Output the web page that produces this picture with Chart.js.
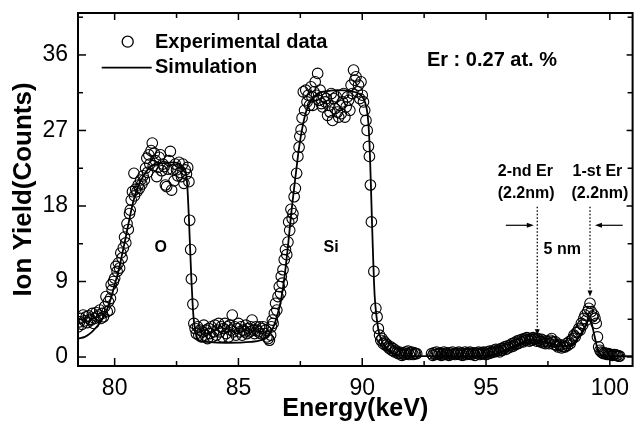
<!DOCTYPE html>
<html><head><meta charset="utf-8">
<script src="https://cdn.jsdelivr.net/npm/chart.js@4.4.1/dist/chart.umd.min.js"></script>
<style>html,body{margin:0;padding:0;background:#fff;overflow:hidden}canvas{display:block}</style>
</head><body>
<canvas id="c" width="639" height="422"></canvas>
<script>
// ---------- data ----------
const seriesNames = ['Experimental data', 'Simulation'];

// O peak region
const oE = [78.52,78.58,78.62,78.68,78.73,78.78,78.85,78.9,78.95,79.0,79.05,79.1,79.15,79.2,79.25,79.3,79.35,79.4,79.45,79.5,79.55,79.6,79.65,79.7,79.75,79.8,79.83,79.86,79.9,79.95,80.0,80.05,80.1,80.15,80.2,80.25,80.3,80.35,80.4,80.45,80.5,80.55,80.6,80.63,80.67,80.72,80.78,80.8,80.85,80.9,80.95,81.0,81.05,81.1,81.15,81.2,81.25,81.3,81.33,81.38,81.42,81.47,81.52,81.56,81.6,81.65,81.7,81.75,81.8,81.85,81.9,81.95,82.0,82.05,82.1,82.15,82.2,82.25,82.3,82.35,82.4,82.45,82.5,82.55,82.6,82.65,82.7,82.75,82.8,82.85,82.9,82.95,83.0,83.03,83.07,83.1,83.16,83.2,83.25];
const oC = [3.6,4.2,4.6,3.9,5.0,4.3,4.8,4.1,4.9,4.5,4.4,5.2,4.0,4.6,5.3,4.8,5.0,5.6,4.6,5.2,4.8,6.0,7.2,5.4,6.6,5.6,7.0,8.6,8.0,9.0,9.4,10.8,10.2,11.2,10.6,12.4,11.8,13.0,14.3,13.6,15.9,15.2,17.1,17.5,18.7,19.7,21.9,19.2,20.0,19.7,20.5,20.1,21.1,20.6,21.6,21.1,22.5,23.7,22.0,24.1,23.0,24.6,25.5,22.8,24.3,23.4,21.5,22.6,23.8,24.1,22.2,23.0,22.7,20.5,20.3,22.4,23.4,24.5,19.9,22.3,21.0,23.0,22.3,21.6,23.2,22.0,21.5,23.0,20.7,22.3,21.8,22.6,20.9,16.3,12.8,9.3,6.3,4.0,3.4];

// valley between O and Si
const valE = [83.3,83.35,83.4,83.45,83.5,83.55,83.6,83.65,83.7,83.75,83.8,83.85,83.9,83.95,84.0,84.05,84.1,84.15,84.2,84.25,84.3,84.35,84.4,84.45,84.5,84.55,84.6,84.65,84.7,84.75,84.8,84.85,84.9,84.95,85.0,85.05,85.1,85.15,85.2,85.25,85.3,85.35,85.4,85.45,85.5,85.55,85.6,85.65,85.7,85.75,85.8,85.85,85.9,85.95,86.0,86.05,86.1,86.15,86.2,86.25,86.3];
const valC = [2.8,3.6,2.6,3.2,2.4,3.0,3.8,2.6,3.2,2.2,3.4,2.8,3.6,2.4,3.0,3.8,2.6,3.2,4.0,3.0,3.6,2.4,3.4,4.0,2.8,3.6,2.4,3.8,3.2,5.0,3.0,3.6,2.6,3.4,4.0,3.0,3.6,2.6,3.2,3.0,3.8,2.8,3.4,3.0,3.6,4.4,3.2,2.8,3.6,3.2,3.0,3.6,2.8,3.4,3.6,2.8,3.2,2.4,2.2,2.0,2.6];

// Si plateau region
const siE = [86.33,86.37,86.4,86.45,86.5,86.55,86.6,86.65,86.7,86.73,86.77,86.8,86.85,86.9,86.95,87.0,87.03,87.07,87.12,87.17,87.2,87.25,87.3,87.35,87.4,87.45,87.48,87.53,87.57,87.62,87.67,87.72,87.77,87.82,87.87,87.93,87.97,88.0,88.05,88.1,88.15,88.2,88.25,88.3,88.35,88.4,88.45,88.5,88.55,88.6,88.65,88.7,88.75,88.8,88.85,88.9,88.95,89.0,89.05,89.1,89.15,89.2,89.25,89.3,89.35,89.4,89.45,89.5,89.55,89.6,89.65,89.7,89.75,89.8,89.85,89.9,89.95,90.0,90.05,90.1,90.15,90.2,90.25,90.29,90.33,90.37,90.47,90.55,90.6,90.65];
const siC = [3.6,4.4,4.0,5.2,6.4,5.6,7.2,8.4,7.6,9.6,8.8,10.4,11.6,12.8,12.2,13.7,16.1,15.1,17.6,16.5,17.1,19.1,20.1,21.9,23.9,25.0,26.3,27.1,28.5,31.6,29.4,31.8,30.4,31.2,30.0,32.2,31.0,30.0,31.6,32.8,31.2,33.8,30.6,31.8,30.2,29.8,31.0,30.4,30.8,28.8,30.0,29.2,31.4,28.2,30.8,29.6,31.0,29.2,28.6,30.0,29.0,30.4,31.4,28.6,29.8,31.0,30.6,29.4,32.4,31.4,34.2,33.0,33.4,31.6,32.4,30.8,32.8,31.2,30.4,29.4,28.2,27.0,25.1,23.9,20.5,16.1,10.2,5.8,4.8,3.4];

// Si tail
const tailE = [90.7,90.75,90.8,90.85,90.9,90.95,91.0,91.05,91.1,91.15,91.2,91.25,91.3,91.35,91.4,91.45,91.5,91.55,91.6,91.65,91.7,91.75,91.8,91.85,91.9,91.95,92.0,92.05,92.1,92.15,92.2];
const tailC = [2.6,2.0,2.2,1.6,1.8,1.4,1.5,1.2,1.0,1.2,0.8,1.0,0.6,0.8,0.6,0.4,0.6,0.4,0.2,0.5,0.3,0.6,0.4,0.7,0.3,0.5,0.6,0.3,0.5,0.4,0.4];

// flat baseline
const baseE = [92.8,92.85,92.9,92.95,93.0,93.05,93.1,93.15,93.2,93.25,93.3,93.35,93.4,93.45,93.5,93.55,93.6,93.65,93.7,93.75,93.8,93.85,93.9,93.95,94.0,94.05,94.1,94.15,94.2,94.25,94.3,94.35,94.4,94.45,94.5,94.55,94.6,94.65,94.7,94.75,94.8,94.85,94.9,94.95,95.0,95.05,95.1,95.15,95.2,95.25,95.3,95.35,95.4,95.45];
const baseC = [0.4,0.2,0.5,0.3,0.6,0.4,0.3,0.5,0.2,0.4,0.6,0.3,0.5,0.4,0.2,0.5,0.3,0.6,0.4,0.3,0.5,0.4,0.6,0.3,0.5,0.2,0.4,0.6,0.3,0.5,0.4,0.6,0.3,0.5,0.4,0.2,0.5,0.4,0.6,0.3,0.5,0.4,0.6,0.5,0.3,0.6,0.4,0.7,0.5,0.6,0.8,0.6,0.9,0.7];

// Er region
const erE = [95.5,95.55,95.6,95.65,95.7,95.75,95.8,95.85,95.9,95.95,96.0,96.05,96.1,96.15,96.2,96.25,96.3,96.35,96.4,96.45,96.5,96.55,96.6,96.65,96.7,96.75,96.8,96.85,96.9,96.95,97.0,97.05,97.1,97.15,97.2,97.25,97.3,97.35,97.4,97.45,97.5,97.55,97.6,97.65,97.7,97.75,97.8,97.85,97.9,97.95,98.0,98.05,98.1,98.15,98.2,98.25,98.3,98.35,98.4,98.45,98.5,98.55,98.6,98.65,98.7,98.75,98.8,98.85,98.9,98.95,99.0,99.05,99.1,99.15,99.2,99.25,99.3,99.35,99.4,99.45,99.5,99.55,99.6,99.65,99.7,99.75,99.8,99.85,99.9,99.95,100.0,100.05,100.1,100.15,100.2,100.25,100.3,100.35,100.4];
const erC = [0.8,0.6,1.0,0.8,1.0,1.2,0.9,1.3,1.1,1.4,1.2,1.6,1.3,1.7,1.5,1.9,1.6,2.0,1.8,2.1,1.8,2.2,2.0,2.3,2.1,1.9,2.2,2.0,2.3,2.1,2.2,1.9,2.2,2.0,1.8,2.1,1.7,1.9,1.6,1.9,1.8,1.6,2.0,2.2,1.8,1.5,1.8,1.4,1.2,1.5,1.4,1.1,1.3,1.2,1.2,1.6,1.4,1.8,1.6,2.0,2.2,2.6,2.4,2.9,3.0,3.4,3.2,4.0,3.8,4.6,5.0,4.4,5.4,5.8,6.4,5.4,4.8,5.0,4.6,4.0,2.4,1.2,0.8,0.6,0.5,0.4,0.5,0.4,0.3,0.4,0.3,0.3,0.2,0.3,0.3,0.2,0.2,0.1,0.1];

// simulation curve
const simE = [78.52,78.8,79.05,79.3,79.5,79.7,79.85,80.0,80.15,80.3,80.45,80.6,80.75,80.9,81.05,81.25,81.45,81.7,82.0,82.3,82.55,82.75,82.87,82.93,83.0,83.05,83.1,83.15,83.2,83.28,83.4,83.7,84.5,85.5,85.9,86.2,86.4,86.55,86.7,86.85,87.0,87.15,87.3,87.45,87.6,87.75,87.95,88.2,88.6,89.0,89.5,89.85,90.05,90.18,90.25,90.3,90.35,90.4,90.45,90.5,90.57,90.65,90.75,90.9,91.1,91.4,91.8,92.5,94.0,95.0,95.5,95.9,96.2,96.5,96.75,97.0,97.3,97.6,97.9,98.2,98.45,98.65,98.85,99.0,99.1,99.17,99.25,99.33,99.42,99.5,99.6,99.7,100.0,100.9];
const simC = [2.2,2.4,2.9,3.7,4.5,5.7,7.0,8.6,10.2,12.2,14.3,16.5,18.5,20.0,21.0,22.0,22.7,23.0,23.1,23.2,23.1,22.7,22.1,20.6,16.5,12.8,9.2,6.3,4.3,2.8,2.0,1.8,1.7,1.8,2.0,2.5,3.5,4.8,6.5,9.3,13.2,17.6,21.4,25.0,27.6,29.4,30.6,31.4,31.7,31.8,31.7,31.4,30.8,29.6,27.8,25.0,20.5,15.5,11.0,7.4,5.0,3.3,2.2,1.3,0.7,0.3,0.15,0.1,0.1,0.2,0.5,1.0,1.4,1.8,2.0,1.95,1.8,1.6,1.4,1.3,1.5,2.0,2.8,3.6,4.3,4.6,4.2,3.2,2.0,1.0,0.4,0.15,0.1,0.1];

// axes ticks
const xTicks = [80, 85, 90, 95, 100];
const xMinor = [82.5, 87.5, 92.5, 97.5];
const yTicks = [0, 9, 18, 27, 36];
const yMinor = [4.5, 13.5, 22.5, 31.5, 40.5];

// ---------- build chart ----------
const FONT = '"Liberation Sans", Arial, Helvetica, sans-serif';
const expE = [].concat(oE, valE, siE, tailE, baseE, erE);
const expC = [].concat(oC, valC, siC, tailC, baseC, erC);
const expPts = expE.map((e, i) => ({x: e, y: expC[i]}));
const simPts = simE.map((e, i) => ({x: e, y: simC[i]}));

function line(ctx, x1, y1, x2, y2) { ctx.beginPath(); ctx.moveTo(x1, y1); ctx.lineTo(x2, y2); ctx.stroke(); }
function head(ctx, x, y, dir) {
  ctx.beginPath();
  if (dir === 'down') { ctx.moveTo(x, y); ctx.lineTo(x - 2.5, y - 6); ctx.lineTo(x + 2.5, y - 6); }
  if (dir === 'right') { ctx.moveTo(x, y); ctx.lineTo(x - 7, y - 2.5); ctx.lineTo(x - 7, y + 2.5); }
  if (dir === 'left') { ctx.moveTo(x, y); ctx.lineTo(x + 7, y - 2.5); ctx.lineTo(x + 7, y + 2.5); }
  ctx.closePath(); ctx.fill();
}

const overlay = {
  id: 'overlay',
  afterDatasetsDraw(chart) {
    const {ctx, chartArea: a, scales: {x, y}} = chart;
    const X = v => x.getPixelForValue(v), Y = v => y.getPixelForValue(v);
    ctx.save();
    ctx.strokeStyle = '#000'; ctx.fillStyle = '#000';
    ctx.lineWidth = 2;
    ctx.strokeRect(a.left, a.top, a.right - a.left, a.bottom - a.top);
    ctx.lineWidth = 1.5;
    xTicks.forEach(v => { const p = X(v); line(ctx, p, a.bottom, p, a.bottom - 8); line(ctx, p, a.top, p, a.top + 7); });
    xMinor.forEach(v => { const p = X(v); line(ctx, p, a.bottom, p, a.bottom - 5); line(ctx, p, a.top, p, a.top + 5); });
    yTicks.forEach(v => { const p = Y(v); line(ctx, a.left, p, a.left + 8, p); line(ctx, a.right, p, a.right - 6, p); });
    yMinor.forEach(v => { const p = Y(v); line(ctx, a.left, p, a.left + 5, p); line(ctx, a.right, p, a.right - 5, p); });

    // legend
    ctx.lineWidth = 1.3;
    ctx.beginPath(); ctx.arc(127.7, 41.7, 5.5, 0, Math.PI * 2); ctx.stroke();
    ctx.lineWidth = 1.8;
    line(ctx, 101.7, 67.7, 151.7, 67.7);
    ctx.font = 'bold 20px ' + FONT; ctx.textAlign = 'left'; ctx.textBaseline = 'middle';
    ctx.fillText(seriesNames[0], 155, 42);
    ctx.fillText(seriesNames[1], 155, 67);

    // text labels
    ctx.textAlign = 'center';
    ctx.fillText('Er : 0.27 at. %', X(95.24), Y(35.4));
    ctx.font = 'bold 16px ' + FONT;
    ctx.fillText('O', X(81.86), Y(13.0));
    ctx.fillText('Si', X(88.74), Y(13.0));
    ctx.fillText('2-nd Er', X(96.59), Y(22.1));
    ctx.fillText('(2.2nm)', X(96.62), Y(19.5));
    ctx.fillText('1-st Er', X(99.5), Y(22.1));
    ctx.fillText('(2.2nm)', X(99.6), Y(19.5));
    ctx.fillText('5 nm', X(98.08), Y(12.75));

    // dotted markers
    ctx.lineWidth = 1.3; ctx.setLineDash([1.5, 2]);
    line(ctx, X(97.07), Y(17.9), X(97.07), Y(2.6) - 5);
    line(ctx, X(99.2), Y(17.9), X(99.2), Y(7.2) - 5);
    ctx.setLineDash([]);
    head(ctx, X(97.07), Y(2.6), 'down');
    head(ctx, X(99.2), Y(7.2), 'down');
    ctx.lineWidth = 1.2;
    line(ctx, X(95.8), Y(15.7), X(96.93) - 5, Y(15.7));
    head(ctx, X(96.93), Y(15.7), 'right');
    line(ctx, X(100.52), Y(15.7), X(99.4) + 5, Y(15.7));
    head(ctx, X(99.4), Y(15.7), 'left');
    ctx.restore();
  }
};

new Chart(document.getElementById('c'), {
  type: 'scatter',
  data: {
    datasets: [
      {
        label: seriesNames[0], data: expPts, showLine: false,
        pointStyle: 'circle', pointRadius: 5.3, pointHoverRadius: 5.3,
        borderColor: '#000', backgroundColor: 'rgba(0,0,0,0)', pointBorderWidth: 1.1, borderWidth: 1.1
      },
      {
        label: seriesNames[1], data: simPts, showLine: true, type: 'line',
        pointRadius: 0, borderColor: '#000', borderWidth: 1.8, backgroundColor: '#000',
        fill: false, cubicInterpolationMode: 'monotone'
      }
    ]
  },
  options: {
    responsive: false, animation: false, devicePixelRatio: 1,
    layout: {padding: {top: 13, right: 1, left: 0, bottom: 0}},
    plugins: {legend: {display: false}, tooltip: {enabled: false}},
    scales: {
      x: {
        type: 'linear', min: 78.52, max: 100.92,
        afterBuildTicks: s => { s.ticks = xTicks.map(v => ({value: v})); },
        afterFit: s => { s.height = 56; s.paddingLeft = 0; s.paddingRight = 0; },
        grid: {display: false, drawTicks: false}, border: {display: false},
        ticks: {font: {family: FONT, size: 23}, color: '#000', padding: 9, maxRotation: 0, autoSkip: false},
        title: {display: true, text: 'Energy(keV)', color: '#000', font: {family: FONT, size: 25, weight: 'bold', lineHeight: 1}, padding: {top: 0, bottom: 0}}
      },
      y: {
        type: 'linear', min: -1.07, max: 41.0,
        afterBuildTicks: s => { s.ticks = yTicks.map(v => ({value: v})); },
        afterFit: s => { s.width = 78; s.paddingTop = 0; s.paddingBottom = 0; },
        grid: {display: false, drawTicks: false}, border: {display: false},
        ticks: {font: {family: FONT, size: 23}, color: '#000', padding: 10, autoSkip: false},
        title: {display: true, text: 'Ion Yield(Counts)', color: '#000', font: {family: FONT, size: 26, weight: 'bold'}, padding: {top: 8, bottom: 0}}
      }
    }
  },
  plugins: [overlay]
});
</script>
</body></html>
